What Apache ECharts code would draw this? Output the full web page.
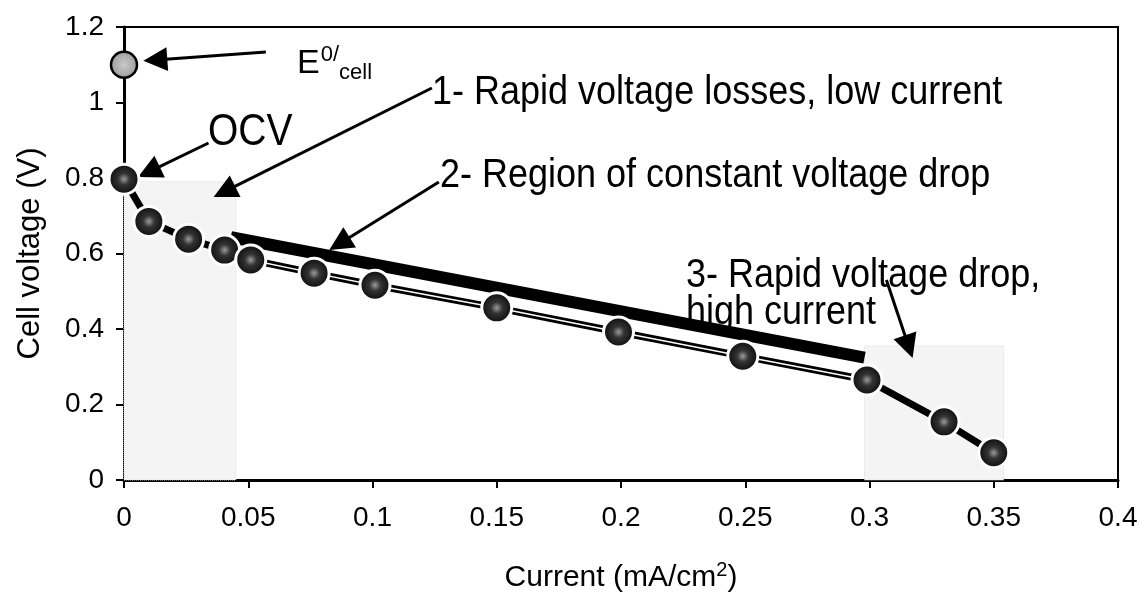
<!DOCTYPE html>
<html>
<head>
<meta charset="utf-8">
<script src="https://cdn.jsdelivr.net/npm/echarts@6/dist/echarts.min.js"></script>
<style>
  html, body { margin: 0; padding: 0; background: #fff; }
  #chart { width: 1141px; height: 599px; }
</style>
</head>
<body>
<div id="chart"></div>
<script>
// ── data ──
const current = [0, 0.01, 0.026, 0.0405, 0.051, 0.0765, 0.101, 0.15, 0.199, 0.249, 0.299, 0.33, 0.35];
const voltage = [0.797, 0.685, 0.638, 0.609, 0.583, 0.548, 0.516, 0.456, 0.392, 0.328, 0.265, 0.154, 0.072];
const eCell = [0, 1.1];
const fitX = [0.043, 0.298];
const fitY = [0.643, 0.324];

// shaded regions: [x0, x1, yTop]
const zones = [[0, 0.045, 0.79], [0.298, 0.354, 0.355]];

// arrows: [fromX, fromY, toX, toY]
const arrows = [
  [0.0571, 1.1338, 0.0126, 1.1126],
  [0.0340, 0.8927, 0.0100, 0.8164],
  [0.1239, 1.0384, 0.0404, 0.7640],
  [0.1267, 0.7894, 0.0867, 0.6260],
  [0.3068, 0.5300, 0.3158, 0.3530],
];

const FONT = "'Liberation Sans', Arial, sans-serif";
const pts = current.map((x, i) => [x, voltage[i]]);
const midPts = pts.filter(p => p[0] >= 0.04 && p[0] <= 0.3);

const dotFill = new echarts.graphic.RadialGradient(0.5, 0.5, 0.5, [
  { offset: 0, color: '#9a9a9a' },
  { offset: 0.35, color: '#333' },
  { offset: 1, color: '#080808' },
]);

// annotation text, stretched a little in height like the scan
function note(text, x, y, size) {
  return {
    type: 'text', x, y, z: 10, scaleY: 1.15,
    style: { text, font: size + 'px ' + FONT, fill: '#000', verticalAlign: 'middle' },
  };
}

const chart = echarts.init(document.getElementById('chart'));
chart.setOption({
  animation: false,
  grid: { left: 124, right: 23, top: 27, bottom: 119, show: true, borderColor: '#000', borderWidth: 2 },
  xAxis: {
    type: 'value', min: 0, max: 0.4, interval: 0.05,
    name: 'Current (mA/cm{sup|2})', nameLocation: 'middle', nameGap: 80,
    nameTextStyle: {
      fontFamily: FONT, fontSize: 30, color: '#000',
      rich: { sup: { fontFamily: FONT, fontSize: 20, color: '#000', verticalAlign: 'top', padding: [0, 0, 16, 0] } },
    },
    axisLine: { lineStyle: { color: '#000', width: 3 } },
    axisTick: { show: true, inside: false, length: 8, lineStyle: { color: '#000', width: 2 } },
    axisLabel: { fontFamily: FONT, fontSize: 28, color: '#000', margin: 24 },
    splitLine: { show: false },
  },
  yAxis: {
    type: 'value', min: 0, max: 1.2, interval: 0.2,
    name: 'Cell voltage (V)', nameLocation: 'middle', nameGap: 78,
    nameTextStyle: { fontFamily: FONT, fontSize: 31, color: '#000' },
    axisLine: { lineStyle: { color: '#000', width: 3 } },
    axisTick: { show: true, inside: false, length: 8, lineStyle: { color: '#000', width: 2 } },
    axisLabel: { fontFamily: FONT, fontSize: 28, color: '#000', margin: 20 },
    splitLine: { show: false },
  },
  series: [
    // straight-line region (thick black bar)
    {
      type: 'line', data: fitX.map((x, i) => [x, fitY[i]]),
      symbol: 'none', z: 2,
      lineStyle: { color: '#000', width: 12, cap: 'butt' },
      markArea: {
        silent: true,
        itemStyle: { color: '#f4f4f4', borderColor: '#ddd', borderWidth: 1, borderType: 'dotted' },
        data: zones.map(z => [{ coord: [z[0], 0] }, { coord: [z[1], z[2]] }]),
      },
    },
    // polarisation curve, outline
    {
      type: 'line', data: pts, z: 3,
      symbol: 'none',
      lineStyle: { color: '#000', width: 7 },
    },
    // white core of the middle segment
    {
      type: 'line', data: midPts, z: 4,
      symbol: 'none',
      lineStyle: { color: '#fff', width: 1.5 },
    },
    // data dots
    {
      type: 'scatter', data: pts, z: 5,
      symbolSize: 30,
      itemStyle: { color: dotFill, borderColor: '#fff', borderWidth: 3, opacity: 1 },
    },
    // E0 cell point + arrows
    {
      type: 'scatter', data: [eCell], z: 5,
      symbolSize: 26,
      itemStyle: {
        color: new echarts.graphic.RadialGradient(0.5, 0.5, 0.5, [
          { offset: 0, color: '#c8c8c8' }, { offset: 1, color: '#9c9c9c' },
        ]),
        borderColor: '#000', borderWidth: 2.5, opacity: 1,
      },
      markLine: {
        silent: true, animation: false,
        symbol: ['none', 'triangle'], symbolSize: 24,
        label: { show: false },
        lineStyle: { color: '#000', width: 3, type: 'solid' },
        data: arrows.map(a => [{ coord: [a[0], a[1]] }, { coord: [a[2], a[3]] }]),
      },
    },
  ],
  graphic: [
    {
      type: 'text', x: 297, y: 64, z: 10,
      style: {
        text: '{e|E}{sup|0/}{sub|cell}', verticalAlign: 'middle',
        rich: {
          e: { fontFamily: FONT, fontSize: 34, fill: '#000' },
          sup: { fontFamily: FONT, fontSize: 22, fill: '#000', verticalAlign: 'top', padding: [0, 0, 18, 1] },
          sub: { fontFamily: FONT, fontSize: 22, fill: '#000', verticalAlign: 'bottom', padding: [14, 0, 0, 0] },
        },
      },
    },
    note('OCV', 208, 133, 39),
    note('1- Rapid voltage losses, low current', 432, 93, 36),
    note('2- Region of constant voltage drop', 440, 176, 36),
    note('3- Rapid voltage drop,', 686, 276, 36),
    note('high current', 686, 313, 36),
  ],
});
</script>
</body>
</html>
